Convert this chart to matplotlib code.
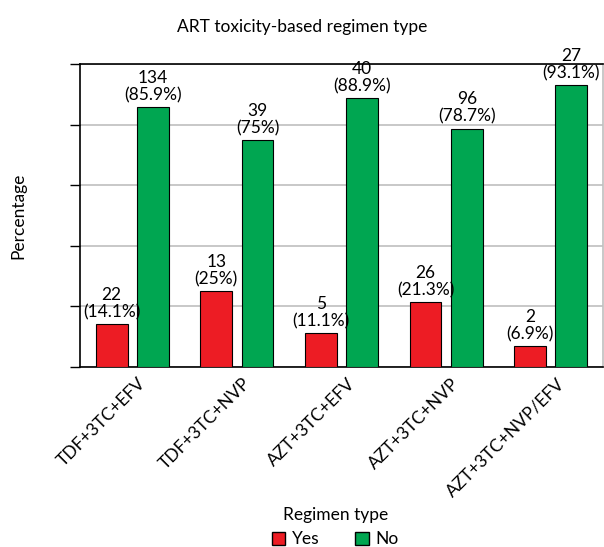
import numpy as np
import matplotlib.pyplot as plt
from matplotlib.patches import Patch

plt.rcParams['font.family'] = ['Lato', 'DejaVu Sans']

regimens = ['TDF+3TC+EFV', 'TDF+3TC+NVP', 'AZT+3TC+EFV', 'AZT+3TC+NVP', 'AZT+3TC+NVP/EFV']
yes_n = [22, 13, 5, 26, 2]
yes_pct = [14.1, 25, 11.1, 21.3, 6.9]
no_n = [134, 39, 40, 96, 27]
no_pct = [85.9, 75, 88.9, 78.7, 93.1]

red = '#ED1C24'
green = '#00A651'

fig = plt.figure(figsize=(6.04, 5.47), dpi=100)
ax = fig.add_axes([80 / 604, 1 - 367 / 547, 523 / 604, 303 / 547])

x = np.arange(len(regimens))
w = 0.305
off = 0.197
b1 = ax.bar(x - off, yes_pct, w, color=red, edgecolor='black', linewidth=0.8, zorder=3)
b2 = ax.bar(x + off, no_pct, w, color=green, edgecolor='black', linewidth=0.8, zorder=3)

for bars, ns, ps in [(b1, yes_n, yes_pct), (b2, no_n, no_pct)]:
    for rect, n, p in zip(bars, ns, ps):
        ax.text(rect.get_x() + rect.get_width() / 2, rect.get_height() + 1.2,
                f'{n}\n({p:g}%)', ha='center', va='bottom', fontsize=12.5,
                linespacing=1.1, zorder=4)

ax.set_xlim(-0.5, 4.5)
ax.set_ylim(0, 100)
ax.set_yticks([0, 20, 40, 60, 80, 100])
ax.set_yticklabels([])
ax.yaxis.grid(True, color='#BFBFBF', linewidth=1.2, zorder=0)
ax.tick_params(axis='y', length=7, width=1, direction='out')
ax.tick_params(axis='x', length=0, pad=6)
ax.set_xticks(x + 0.05)
ax.set_xticklabels(regimens, rotation=45, ha='right', rotation_mode='anchor', fontsize=12.5)

for side in ['left', 'bottom', 'top']:
    ax.spines[side].set_color('black')
    ax.spines[side].set_linewidth(1.2)
ax.spines['right'].set_color('#BFBFBF')
ax.spines['right'].set_linewidth(1.2)

ax.set_ylabel('Percentage', fontsize=12.5, labelpad=28)
fig.text(0.5, 1 - 27 / 547, 'ART toxicity-based regimen type', ha='center', va='center', fontsize=12.5)

handles = [Patch(facecolor=red, edgecolor='black', label='Yes'),
           Patch(facecolor=green, edgecolor='black', label='No')]
fig.legend(handles=handles, loc='center', bbox_to_anchor=(0.555, 1 - 527 / 547), ncol=2,
           frameon=False, title='Regimen type', fontsize=12.5, title_fontsize=12.5,
           handlelength=0.8, handleheight=0.8, handletextpad=0.4, columnspacing=2.0)

fig.savefig('out.png', dpi=100)
